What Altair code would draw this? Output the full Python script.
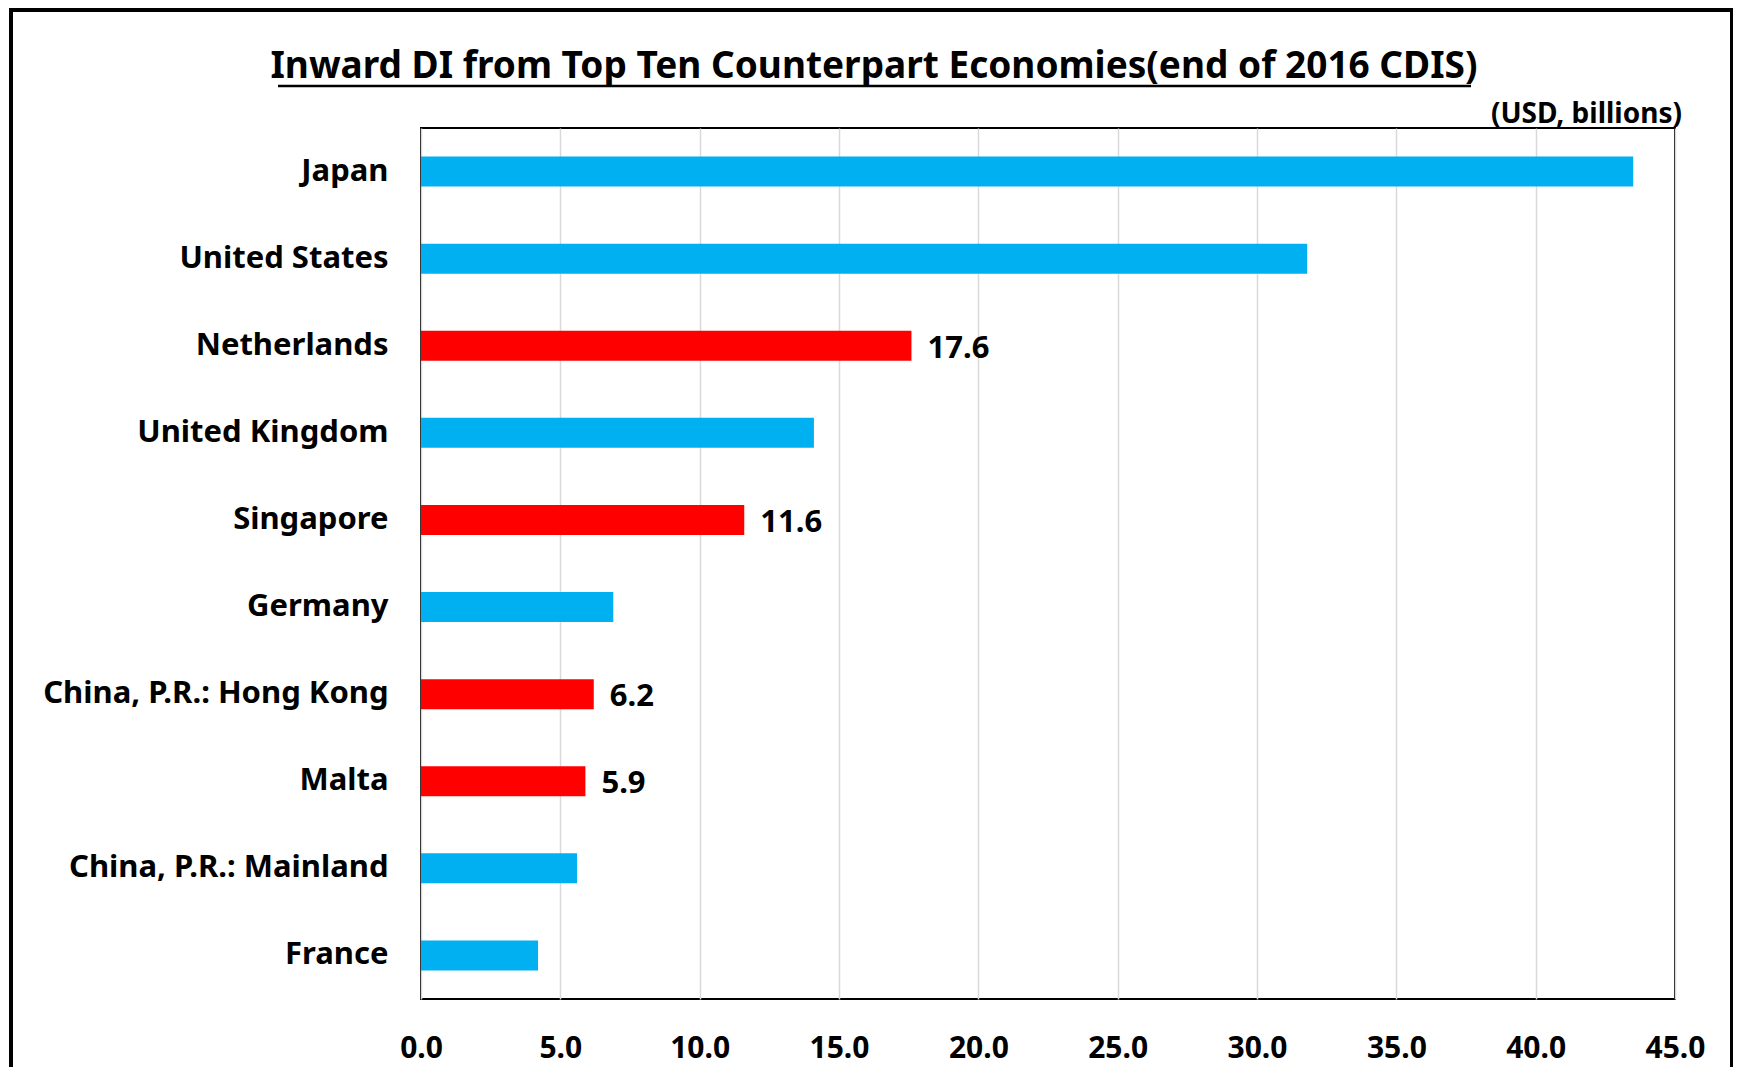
import altair as alt
import pandas as pd

countries = ["Japan", "United States", "Netherlands", "United Kingdom", "Singapore",
             "Germany", "China, P.R.: Hong Kong", "Malta", "China, P.R.: Mainland", "France"]
values = [43.5, 31.8, 17.6, 14.1, 11.6, 6.9, 6.2, 5.9, 5.6, 4.2]
highlight = ["no", "no", "yes", "no", "yes", "no", "yes", "yes", "no", "no"]
x_ticks = [0, 5, 10, 15, 20, 25, 30, 35, 40, 45]
title_text = "Inward DI from Top Ten Counterpart Economies(end of 2016 CDIS)"
unit_text = "(USD, billions)"

df = pd.DataFrame({"country": countries, "value": values, "highlight": highlight})

FONT = "Noto Sans"
W, H = 1254, 871

base = alt.Chart(df)

y_enc = alt.Y("country:N", sort=countries,
              scale=alt.Scale(paddingInner=0.655, paddingOuter=0.3275),
              axis=alt.Axis(title=None, ticks=False, domain=False, labelFont=FONT,
                            labelFontSize=31, labelFontWeight="bold", labelColor="black",
                            labelPadding=33, labelLimit=0))
x_enc = alt.X("value:Q", scale=alt.Scale(domain=[0, 45], nice=False),
              axis=alt.Axis(title=None, values=x_ticks, format=".1f", ticks=False,
                            domain=False, grid=True, gridColor="#d9d9d9", gridWidth=1.5,
                            labelFont=FONT, labelFontSize=30, labelFontWeight="bold",
                            labelColor="black", labelPadding=34, labelFlush=False,
                            labelOverlap=False))

bars = base.mark_bar().encode(
    y=y_enc, x=x_enc,
    color=alt.Color("highlight:N", scale=alt.Scale(domain=["yes", "no"],
                                                    range=["#FF0000", "#00B0F0"]),
                    legend=None),
)

labels = base.transform_filter(alt.datum.highlight == "yes").mark_text(
    align="left", baseline="middle", dx=16, dy=3, font=FONT, fontSize=31,
    fontWeight="bold", color="black"
).encode(y=alt.Y("country:N", sort=countries), x="value:Q",
         text=alt.Text("value:Q", format=".1f"))

dummy = alt.Chart(alt.Data(values=[{"a": 1}]))

title = dummy.mark_text(align="center", baseline="middle", font=FONT, fontSize=37,
                        fontWeight="bold", color="black").encode(
    x=alt.value(453), y=alt.value(-61), text=alt.value(title_text))

underline = dummy.mark_rule(color="black", strokeWidth=2.5).encode(
    x=alt.value(-143), x2=alt.value(1050), y=alt.value(-42))

units = dummy.mark_text(align="right", baseline="middle", font=FONT, fontSize=28,
                        fontWeight="bold", color="black").encode(
    x=alt.value(1261), y=alt.value(-13), text=alt.value(unit_text))

frame_left = dummy.mark_rule(color="black", strokeWidth=4).encode(
    x=alt.value(-410), y=alt.value(-118), y2=alt.value(950))
frame_top = dummy.mark_rule(color="black", strokeWidth=4).encode(
    x=alt.value(-412), x2=alt.value(1313), y=alt.value(-118))
frame_right = dummy.mark_rule(color="black", strokeWidth=4).encode(
    x=alt.value(1311), y=alt.value(-118), y2=alt.value(950))

chart = alt.layer(bars, labels, title, underline, units,
                  frame_left, frame_top, frame_right).properties(
    width=W, height=H,
    padding={"left": 413, "top": 120, "right": 58, "bottom": 68},
    autosize=alt.AutoSizeParams(type="none"),
    background="white",
).configure_view(stroke="black", strokeWidth=2)

chart.save("out.html", embed_options={"renderer": "svg", "actions": False})
